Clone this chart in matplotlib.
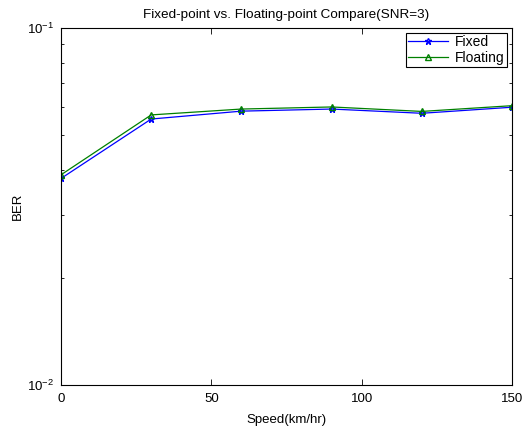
import matplotlib
matplotlib.use("Agg")
import matplotlib.pyplot as plt
from matplotlib.ticker import LogLocator, NullFormatter

plt.rcParams.update({
    "font.family": ["Liberation Sans", "DejaVu Sans"],
    "font.size": 9.5,
    "mathtext.default": "regular",
    "xtick.direction": "in",
    "ytick.direction": "in",
    "xtick.top": True,
    "ytick.right": True,
})

speed = [0, 30, 60, 90, 120, 150]
ber_fixed = [0.0379, 0.0556, 0.0585, 0.0593, 0.0577, 0.0600]
ber_floating = [0.0388, 0.0571, 0.0593, 0.0601, 0.0584, 0.0606]

fig = plt.figure(figsize=(5.32, 4.28), dpi=100)
ax = fig.add_axes([0.1147, 0.1005, 0.8477, 0.834])

ax.plot(speed, ber_fixed, color="blue", marker="*", markersize=5, linewidth=0.9,
        markerfacecolor="none", label="Fixed")
ax.plot(speed, ber_floating, color="green", marker="^", markersize=5, linewidth=0.9,
        markerfacecolor="none", label="Floating")

ax.set_yscale("log")
ax.set_xlim(0, 150)
ax.set_ylim(1e-2, 1e-1)
ax.set_xticks([0, 50, 100, 150])
ax.yaxis.set_major_locator(LogLocator(base=10, numticks=5))
ax.yaxis.set_minor_locator(LogLocator(base=10, subs=range(2, 10), numticks=20))
ax.yaxis.set_minor_formatter(NullFormatter())
ax.tick_params(which="major", length=4, width=0.6)
ax.tick_params(axis="x", which="major", pad=6)
ax.tick_params(axis="y", which="major", pad=5)
ax.tick_params(which="minor", length=2.5, width=0.6)
for s in ax.spines.values():
    s.set_linewidth(0.8)

ax.set_title("Fixed-point vs. Floating-point Compare(SNR=3)", fontsize=9.7, pad=7)
ax.set_xlabel("Speed(km/hr)", fontsize=9.5, labelpad=6)
ax.set_ylabel("BER", fontsize=9.5, labelpad=2)

leg = ax.legend(loc="upper right", frameon=True, fancybox=False, edgecolor="black",
                framealpha=1, borderaxespad=0.36, handlelength=2.9, handletextpad=0.5,
                borderpad=0.15, labelspacing=0.1, fontsize=10)
leg.get_frame().set_linewidth(0.8)

fig.savefig("out.png", dpi=100, facecolor="white")
